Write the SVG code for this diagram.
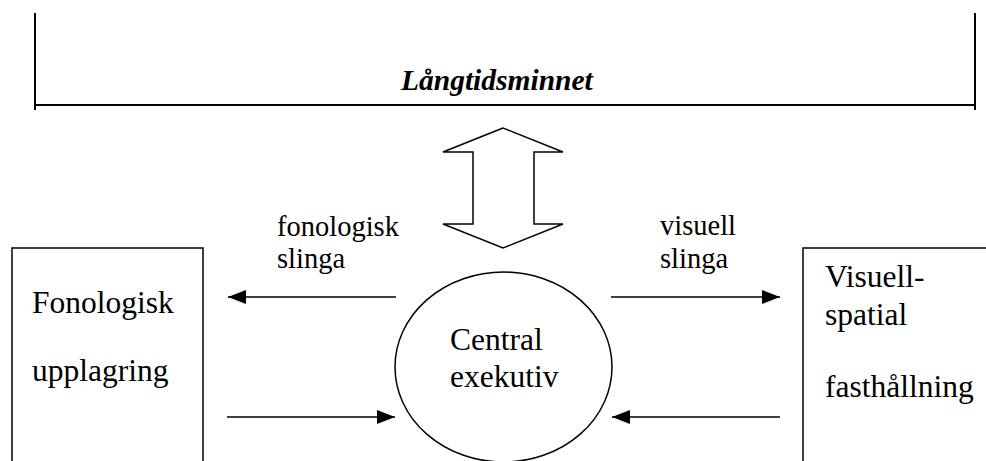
<svg xmlns="http://www.w3.org/2000/svg" width="986" height="461" viewBox="0 0 986 461">
<style>
  .ln { stroke:#000; stroke-width:1.5; fill:none; }
  .tx { font-family:"Liberation Serif","Times New Roman",serif; fill:#000; }
  .big { font-size:31.5px; }
  .lbl { font-size:28.5px; }
  .ltm { font-family:"Liberation Serif","Times New Roman",serif; font-size:29.5px; font-weight:bold; font-style:italic; fill:#000; }
</style>
<defs>
  <marker id="ah" viewBox="0 0 18 14" refX="18" refY="7" markerWidth="18" markerHeight="14" markerUnits="userSpaceOnUse" orient="auto">
    <path d="M0,0 L18,7 L0,14 Z" fill="#000"/>
  </marker>
</defs>
<rect width="986" height="461" fill="#fff"/>
<g id="langtidsminnet">
  <path d="M35,13 V110 M975,13 V110 M35,105 H975" stroke="#000" stroke-width="2" fill="none"/>
  <text class="ltm" x="401" y="90">Långtidsminnet</text>
</g>
<g id="dubbelpil">
  <polygon class="ln" fill="#fff" points="503,128 443,152 473,152 473,224 443,224 503,248 563,224 534,224 534,152 563,152"/>
</g>
<g id="fonologisk-upplagring">
  <rect class="ln" x="12" y="248" width="191" height="230"/>
  <text class="tx big" x="32" y="313">Fonologisk</text>
  <text class="tx big" x="32" y="381">upplagring</text>
</g>
<g id="central-exekutiv">
  <ellipse class="ln" cx="503.5" cy="367" rx="108.5" ry="95"/>
  <text class="tx big" x="450" y="350">Central</text>
  <text class="tx big" x="450" y="387">exekutiv</text>
</g>
<g id="visuell-spatial">
  <rect class="ln" x="803" y="248" width="200" height="230"/>
  <text class="tx big" x="825" y="287">Visuell-</text>
  <text class="tx big" x="825" y="325">spatial</text>
  <text class="tx big" x="825" y="397">fasthållning</text>
</g>
<g id="connectors">
  <line class="ln" x1="396" y1="297" x2="228" y2="297" marker-end="url(#ah)"/>
  <line class="ln" x1="227" y1="417" x2="395" y2="417" marker-end="url(#ah)"/>
  <line class="ln" x1="611" y1="297" x2="780" y2="297" marker-end="url(#ah)"/>
  <line class="ln" x1="780" y1="417" x2="612" y2="417" marker-end="url(#ah)"/>
  <text class="tx lbl" x="277" y="236">fonologisk</text>
  <text class="tx lbl" x="277" y="268">slinga</text>
  <text class="tx lbl" x="660" y="235">visuell</text>
  <text class="tx lbl" x="660" y="268">slinga</text>
</g>
</svg>
